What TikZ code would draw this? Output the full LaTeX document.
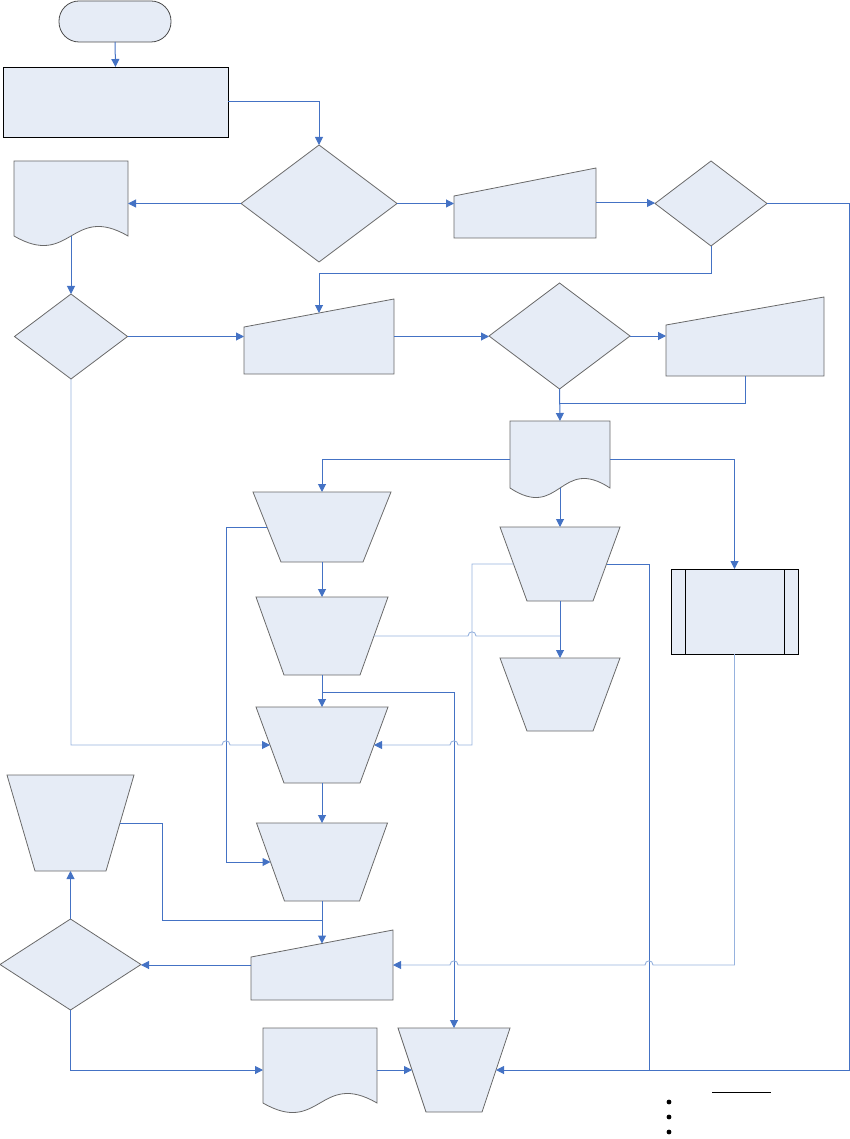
\documentclass[tikz,border=0pt]{standalone}
\usetikzlibrary{shapes.geometric,arrows.meta,calc}
\definecolor{fillc}{RGB}{230,236,246}
\definecolor{connc}{RGB}{68,114,196}
\definecolor{lconnc}{RGB}{150,178,222}
\definecolor{bord}{RGB}{105,105,105}
\newcommand\drawdoc[1]{%
  \path[shp] (#1.north west) -- (#1.north east) -- (#1.south east)
    .. controls ($(#1.south)+(0,-33)$) and ($(#1.south)+(0,33)$) .. (#1.south west) -- cycle;}
\newcommand\drawmanual[2]{%
  \path[shp] (#1.south west) -- (#1.south east) -- (#1.north east)
    -- ($(#1.north west)+(0,#2)$) -- cycle;}
\newcommand\drawtrap[2]{%
  \path[shp] (#1.north west) -- (#1.north east) -- ($(#1.south east)+(-#2,0)$)
    -- ($(#1.south west)+(#2,0)$) -- cycle;
  \coordinate (#1-w) at ($(#1.west)+(#2/2,0)$);
  \coordinate (#1-e) at ($(#1.east)+(-#2/2,0)$);}
\begin{document}
\begin{tikzpicture}[x=1pt,y=-1pt,
  shp/.style={draw=bord,fill=fillc,line width=0.8pt,inner sep=0pt,outer sep=0pt},
  box/.style={inner sep=0pt,outer sep=0pt,rectangle},
  dia/.style={shp,diamond},
  blk/.style={draw=black,line width=0.9pt},
  conn/.style={draw=connc,line width=1pt},
  arr/.style={conn,-{Triangle[length=8pt,width=8pt]}},
  lconn/.style={draw=lconnc,line width=0.9pt},
  larr/.style={lconn,-{Triangle[length=8pt,width=8pt,color=connc]}}]
\useasboundingbox (0,0) rectangle (850,1139);

% guide coordinates
\coordinate (xK) at (162,0);
\coordinate (xL) at (226,0);
\coordinate (xM) at (454,0);
\coordinate (xJ) at (472,0);
\coordinate (xR) at (649,0);
\coordinate (xE) at (849,0);

% shapes
\node[shp,draw=black!70,rounded corners=20pt,minimum width=112,minimum height=41] (Start) at (115,21.5) {};
\node[shp,blk,minimum width=225,minimum height=70] (Proc) at (115.5,102) {};
\node[dia,minimum width=156,minimum height=117] (D1) at (319,203.5) {};
\node[box,minimum width=114,minimum height=75] (Doc1) at (71,198.5) {};
\drawdoc{Doc1}
\node[dia,minimum width=113,minimum height=85] (D2) at (71,336.5) {};
\node[box,minimum width=142,minimum height=70] (M1) at (525,203) {};
\drawmanual{M1}{28}
\node[dia,minimum width=112,minimum height=85] (D3) at (711,203.5) {};
\node[box,minimum width=150,minimum height=75] (M2) at (319,336.5) {};
\drawmanual{M2}{28}
\node[dia,minimum width=141,minimum height=106] (D4) at (559.5,336) {};
\node[box,minimum width=158,minimum height=79] (M3) at (745,336.5) {};
\drawmanual{M3}{28}
\node[box,minimum width=100,minimum height=67] (Doc2) at (560,454.5) {};
\drawdoc{Doc2}
\node[box,minimum width=138,minimum height=70] (T1) at (322,527) {};
\drawtrap{T1}{28}
\node[box,minimum width=132,minimum height=78] (T2) at (322,636) {};
\drawtrap{T2}{28}
\node[box,minimum width=132,minimum height=76] (T3) at (322,745) {};
\drawtrap{T3}{28}
\node[box,minimum width=131,minimum height=78] (T4) at (322,862) {};
\drawtrap{T4}{28}
\node[box,minimum width=120,minimum height=74] (T5) at (560,564) {};
\drawtrap{T5}{27}
\node[box,minimum width=120,minimum height=73] (T6) at (560,694.5) {};
\drawtrap{T6}{27}
\node[shp,blk,minimum width=127,minimum height=85] (P) at (734.5,611.5) {};
\draw[blk] ($(P.north west)+(14,0)$) -- ($(P.south west)+(14,0)$);
\draw[blk] ($(P.north east)+(-14,0)$) -- ($(P.south east)+(-14,0)$);
\node[box,minimum width=127,minimum height=96] (T7) at (70.5,823) {};
\drawtrap{T7}{28}
\node[box,minimum width=142,minimum height=70] (M4) at (322,965) {};
\drawmanual{M4}{27}
\node[dia,minimum width=141,minimum height=91] (D5) at (70.5,964.5) {};
\node[box,minimum width=114,minimum height=75] (Doc3) at (320,1065.5) {};
\drawdoc{Doc3}
\node[box,minimum width=112,minimum height=84] (T8) at (454,1070) {};
\drawtrap{T8}{28}

\coordinate (M2in) at ($(M2.north)+(0,14)$);
\coordinate (M4in) at ($(M4.north)+(0,13.5)$);
\coordinate (jn) at ($(T4.south)+(0,19)$);
\coordinate (jd) at ($(D4.south)+(0,14)$);

% dark connectors
\draw[arr] (Start.south) -- (Proc.north);
\draw[arr] (Proc.east) -| (D1.north);
\draw[arr] (D1.west) -- (D1.west -| Doc1.east);
\draw[arr] (D1.east) -- (D1.east -| M1.west);
\draw[arr] (M1.east) -- (M1.east -| D3.west);
\draw[arr] (D3.east) -- (D3.east -| xE) |- (T8-e);
\draw[arr] (D3.south) -- ++(0,28) -| (M2in);
\draw[arr] (Doc1.south) -- (D2.north);
\draw[arr] (D2.east) -- (D2.east -| M2.west);
\draw[arr] (M2.east) -- (M2.east -| D4.west);
\draw[arr] (D4.east) -- (D4.east -| M3.west);
\draw[arr] (D4.south) -- (Doc2.north);
\draw[conn] (M3.south) |- (jd);
\draw[arr] ([yshift=-4.5pt]Doc2.west) -| (T1.north);
\draw[arr] ([yshift=-4.5pt]Doc2.east) -| (P.north);
\draw[arr] (Doc2.south) -- (T5.north);
\draw[arr] (T1.south) -- (T2.north);
\draw[arr] (T2.south) -- (T3.north);
\draw[arr] (T3.south) -- (T4.north);
\draw[arr] (T5.south) -- (T6.north);
\draw[arr] (T1-w) -- (T1-w -| xL) |- (T4-w);
\draw[arr] ($(T2.south)+(0,17)$) -| (T8.north);
\draw[conn] (T5-e) -| (xR |- T8-e);
\draw[arr] (T4.south) -- (M4in);
\draw[conn] (T7-e) -| (xK |- jn) -- (jn);
\draw[arr] (M4.west) -- (M4.west -| D5.east);
\draw[arr] (D5.north) -- (T7.south);
\draw[arr] (D5.south) |- ([yshift=-4.5pt]Doc3.west);
\draw[arr] ([yshift=-4.5pt]Doc3.east) -- (T8-w);

% light connectors with line jumps
\draw[larr] (D2.south) |- ($(xL |- T3-w)+(-4,0)$)
  .. controls +(0,-5.5) and +(0,-5.5) .. ($(xL |- T3-w)+(4,0)$) -- (T3-w);
\draw[lconn] (T2-e) -- ($(xJ |- T2-e)+(-4,0)$)
  .. controls +(0,-5.5) and +(0,-5.5) .. ($(xJ |- T2-e)+(4,0)$) -- (T5.south |- T2-e);
\draw[larr] (T5-w) -| (xJ |- T3-e) -- ($(xM |- T3-e)+(4,0)$)
  .. controls +(0,-5.5) and +(0,-5.5) .. ($(xM |- T3-e)+(-4,0)$) -- (T3-e);
\draw[larr] (P.south) |- ($(xR |- M4.east)+(4,0)$)
  .. controls +(0,-5.5) and +(0,-5.5) .. ($(xR |- M4.east)+(-4,0)$)
  -- ($(xM |- M4.east)+(4,0)$)
  .. controls +(0,-5.5) and +(0,-5.5) .. ($(xM |- M4.east)+(-4,0)$) -- (M4.east);

% legend marks
\draw[black,line width=1pt] (712,1092) -- (771,1092);
\fill[black] (669,1102) circle (2.4pt);
\fill[black] (669,1117) circle (2.4pt);
\fill[black] (669,1132) circle (2.4pt);
\end{tikzpicture}
\end{document}
